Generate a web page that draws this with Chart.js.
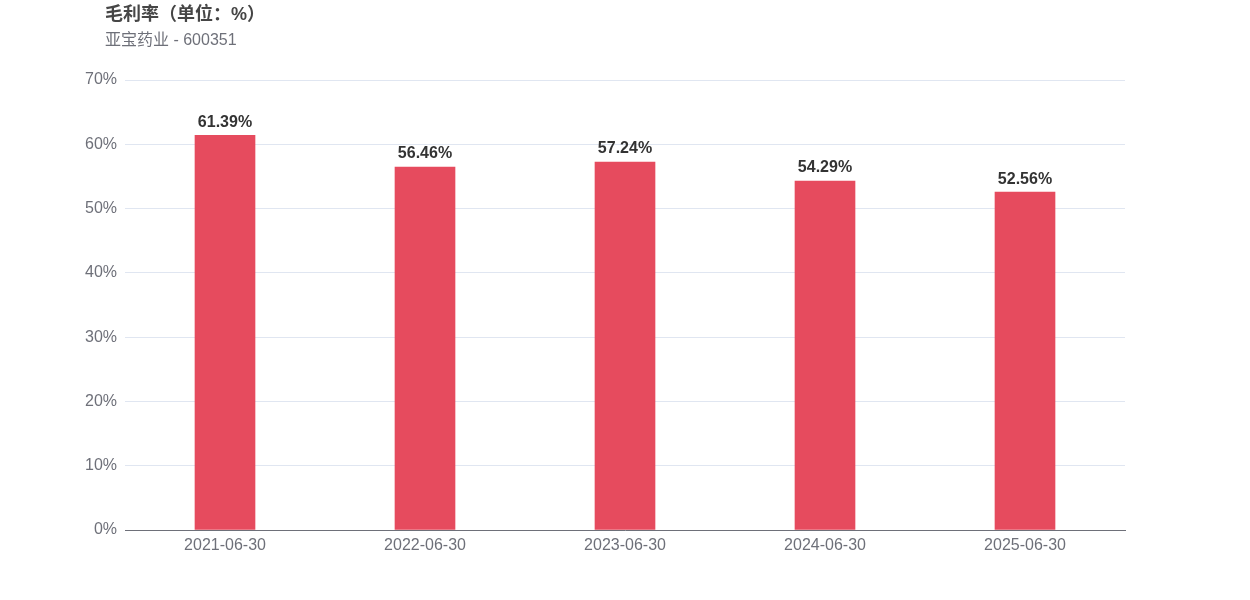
<!DOCTYPE html>
<html>
<head>
<meta charset="utf-8">
<script src="https://cdn.jsdelivr.net/npm/chart.js@4/dist/chart.umd.min.js"></script>
<style>
    html, body { margin: 0; padding: 0; background: #fff; }
    #wrap { position: relative; width: 1250px; height: 600px; }
    #chart { position: absolute; left: 0; top: 0; }
    .title {
        position: absolute; left: 105px; top: -1px;
        font: bold 18px "Liberation Sans", "Noto Sans CJK SC", sans-serif; color: #464646;
    }
    .subtitle {
        position: absolute; left: 105px; top: 26px;
        font: 16px "Liberation Sans", "Noto Sans CJK SC", sans-serif; color: #6e7079;
    }
</style>
</head>
<body>
<div id="wrap">
    <canvas id="chart" width="1250" height="600"></canvas>
    <div class="title">毛利率（单位：%）</div>
    <div class="subtitle">亚宝药业 - 600351</div>
</div>
<script>
const periods = ['2021-06-30', '2022-06-30', '2023-06-30', '2024-06-30', '2025-06-30'];
const grossMargin = [61.39, 56.46, 57.24, 54.29, 52.56];
const yTicks = [0, 10, 20, 30, 40, 50, 60, 70];

const FONT = '"Liberation Sans", "Noto Sans CJK SC", sans-serif';

// value labels above each bar
const barLabels = {
    id: 'barLabels',
    afterDatasetsDraw(chart) {
        const ctx = chart.ctx;
        const meta = chart.getDatasetMeta(0);
        ctx.save();
        ctx.font = 'bold 16px ' + FONT;
        ctx.fillStyle = '#333333';
        ctx.textAlign = 'center';
        ctx.textBaseline = 'bottom';
        meta.data.forEach((bar, i) => {
            ctx.fillText(grossMargin[i].toFixed(2) + '%', bar.x, bar.y - 5);
        });
        ctx.restore();
    }
};

new Chart(document.getElementById('chart'), {
    type: 'bar',
    data: {
        labels: periods,
        datasets: [{
            label: '毛利率',
            data: grossMargin,
            backgroundColor: '#e64b5e',
            barThickness: 60
        }]
    },
    options: {
        responsive: false,
        animation: false,
        layout: { padding: { top: 80, right: 125, bottom: 0, left: 0 } },
        plugins: {
            legend: { display: false },
            tooltip: { enabled: false }
        },
        scales: {
            x: {
                grid: { display: false, drawTicks: false },
                border: { color: '#6e7079', width: 1 },
                ticks: { color: '#6e7079', padding: 6, font: { family: FONT, size: 16 } },
                afterFit(scale) { scale.height = 70; }
            },
            y: {
                min: 0,
                max: 70,
                afterBuildTicks(scale) { scale.ticks = yTicks.map(v => ({ value: v })); },
                grid: { color: '#e0e6f1', drawTicks: false },
                border: { display: false },
                ticks: {
                    color: '#6e7079',
                    padding: 8,
                    font: { family: FONT, size: 16 },
                    callback: v => v + '%'
                },
                afterFit(scale) { scale.width = 125; }
            }
        }
    },
    plugins: [barLabels]
});
</script>
</body>
</html>
